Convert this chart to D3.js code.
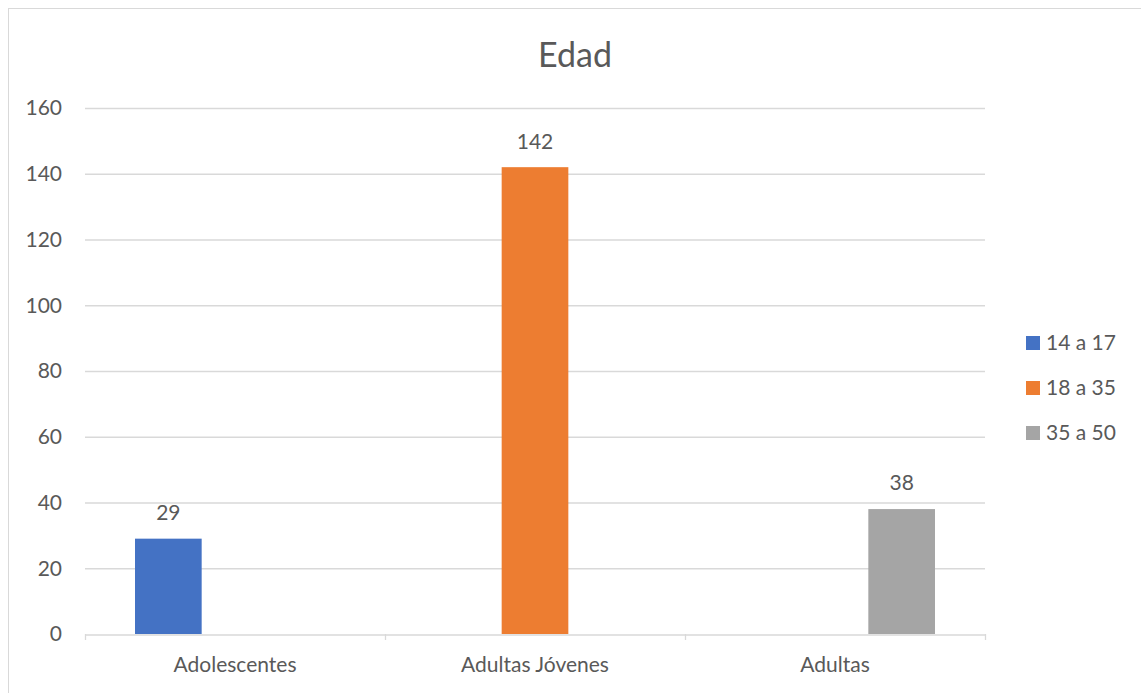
<!DOCTYPE html>
<html>
<head>
<meta charset="utf-8">
<script src="https://cdn.jsdelivr.net/npm/d3@7"></script>
<style>
  body { margin: 0; background: #fff; }
  text { font-family: "Lato", "Noto Sans", sans-serif; fill: #595959; }
</style>
</head>
<body>
<svg id="chart" width="1141" height="693"></svg>
<script>
var categories = ["Adolescentes", "Adultas Jóvenes", "Adultas"];
var series = ["14 a 17", "18 a 35", "35 a 50"];
var colors = ["#4472C4", "#ED7D31", "#A5A5A5"];
// one value per series, each only in its own category
var values = [
  [29, null, null],
  [null, 142, null],
  [null, null, 38]
];
var yTicks = [0, 20, 40, 60, 80, 100, 120, 140, 160];

var svg = d3.select("#chart");
var margin = { left: 85, right: 985, top: 108, bottom: 634 };
var fs = "21px";

svg.append("rect")
  .attr("x", 8.5).attr("y", 8.5)
  .attr("width", 1160).attr("height", 720)
  .attr("fill", "none")
  .attr("stroke", "#d9d9d9");

var y = d3.scaleLinear().domain([0, 160]).range([margin.bottom, margin.top]);
var x0 = d3.scaleBand().domain(categories).range([margin.left, margin.right]).padding(0);
var x1 = d3.scaleBand().domain(series).range([0, x0.bandwidth()])
  .paddingInner(0).paddingOuter(0.75);
var color = d3.scaleOrdinal().domain(series).range(colors);

// gridlines
svg.append("g").selectAll("line")
  .data(yTicks.filter(function(d) { return d > 0; }))
  .enter().append("line")
    .attr("x1", margin.left).attr("x2", margin.right)
    .attr("y1", function(d) { return y(d) + 0.5; })
    .attr("y2", function(d) { return y(d) + 0.5; })
    .attr("stroke", "#d9d9d9").attr("stroke-width", 1.3);

// y labels
svg.append("g").selectAll("text")
  .data(yTicks)
  .enter().append("text")
    .attr("x", 62).attr("y", function(d) { return y(d); })
    .attr("dy", "0.35em")
    .attr("text-anchor", "end")
    .style("font-size", fs)
    .text(function(d) { return d; });

// x axis
var xAxis = svg.append("g")
  .attr("transform", "translate(0," + (margin.bottom + 0.5) + ")")
  .call(d3.axisBottom(x0).tickSize(0).tickPadding(23));
xAxis.select(".domain").attr("stroke", "#d9d9d9").attr("stroke-width", 1.3);
xAxis.selectAll("text").style("font-size", fs).style("font-family", "Lato, 'Noto Sans', sans-serif").attr("fill", "#595959");

var bounds = categories.map(function(c) { return x0(c); }).concat([margin.right]);
svg.append("g").selectAll("line")
  .data(bounds)
  .enter().append("line")
    .attr("x1", function(d) { return d + 0.5; }).attr("x2", function(d) { return d + 0.5; })
    .attr("y1", margin.bottom).attr("y2", margin.bottom + 6)
    .attr("stroke", "#d9d9d9").attr("stroke-width", 1.3);

// bars
var groups = svg.append("g").selectAll("g")
  .data(categories)
  .enter().append("g")
    .attr("transform", function(c) { return "translate(" + x0(c) + ",0)"; });

var cells = groups.selectAll("g")
  .data(function(c, i) {
    return series.map(function(s, j) { return { s: s, v: values[i][j] }; })
      .filter(function(d) { return d.v != null; });
  })
  .enter().append("g");

cells.append("rect")
  .attr("x", function(d) { return x1(d.s); })
  .attr("width", x1.bandwidth())
  .attr("y", function(d) { return y(d.v); })
  .attr("height", function(d) { return y(0) - y(d.v); })
  .attr("fill", function(d) { return color(d.s); });

cells.append("text")
  .attr("x", function(d) { return x1(d.s) + x1.bandwidth() / 2; })
  .attr("y", function(d) { return y(d.v) - 26; })
  .attr("dy", "0.35em")
  .attr("text-anchor", "middle")
  .style("font-size", fs)
  .attr("fill", "#404040")
  .text(function(d) { return d.v; });

// title
svg.append("text")
  .attr("x", 575).attr("y", 55)
  .attr("dy", "0.35em")
  .attr("text-anchor", "middle")
  .style("font-size", "34px")
  .text("Edad");

// legend
var legend = svg.append("g").selectAll("g")
  .data(series)
  .enter().append("g")
    .attr("transform", function(d, i) { return "translate(1026," + (343 + i * 45) + ")"; });
legend.append("rect")
  .attr("x", 0).attr("y", -7).attr("width", 14).attr("height", 14)
  .attr("fill", function(d) { return color(d); });
legend.append("text")
  .attr("x", 20).attr("y", 0).attr("dy", "0.35em")
  .style("font-size", fs)
  .text(function(d) { return d; });
</script>
</body>
</html>
